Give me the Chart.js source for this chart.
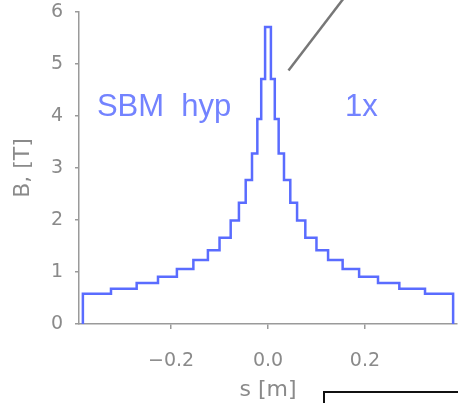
<!DOCTYPE html>
<html>
<head>
<meta charset="utf-8">
<script src="https://cdn.jsdelivr.net/npm/chart.js@4.4.1/dist/chart.umd.min.js"></script>
<style>
html,body{margin:0;padding:0;background:#fff;}
#wrap{width:458px;height:403px;position:relative;}
</style>
</head>
<body>
<div id="wrap"><canvas id="c" width="458" height="403"></canvas></div>
<script>
// Bin edges along s [m]
const binEdges = [-0.382, -0.324, -0.271, -0.227, -0.188, -0.154, -0.124, -0.100, -0.077, -0.060, -0.046, -0.033, -0.022, -0.014, -0.006,
                   0.006, 0.014, 0.022, 0.033, 0.046, 0.060, 0.077, 0.100, 0.124, 0.154, 0.188, 0.227, 0.271, 0.324, 0.382];
// Field B [T] in each bin
const fieldValues = [0.58, 0.68, 0.79, 0.91, 1.06, 1.23, 1.42, 1.66, 1.99, 2.33, 2.77, 3.28, 3.94, 4.71, 5.71,
                     4.71, 3.94, 3.28, 2.77, 2.33, 1.99, 1.66, 1.42, 1.23, 1.06, 0.91, 0.79, 0.68, 0.58];
const xTicks = [-0.2, 0.0, 0.2];
const xTickLabels = ['\u22120.2', '0.0', '0.2'];
const yTicks = [0, 1, 2, 3, 4, 5, 6];

const pts = [{x: binEdges[0], y: 0}];
for (let i = 0; i < fieldValues.length; i++) pts.push({x: binEdges[i], y: fieldValues[i]});
pts.push({x: binEdges[binEdges.length - 1], y: fieldValues[fieldValues.length - 1]});
pts.push({x: binEdges[binEdges.length - 1], y: 0});

const axisColor = '#9a9a9a';
const tickFont = {family: 'DejaVu Sans', size: 19};
const titleFont = {family: 'DejaVu Sans', size: 22};

const decor = {
  id: 'decor',
  afterDraw(chart) {
    const ctx = chart.ctx;
    const xs = chart.scales.x, ys = chart.scales.y;
    ctx.save();
    ctx.fillStyle = '#7383ff';
    ctx.font = '31px "Liberation Sans", Arial, sans-serif';
    ctx.textBaseline = 'alphabetic';
    ctx.textAlign = 'left';
    ctx.fillText('SBM  hyp', xs.getPixelForValue(-0.353), ys.getPixelForValue(4.0));
    ctx.fillText('1x', xs.getPixelForValue(0.159), ys.getPixelForValue(4.0));
    // grey pointer line
    ctx.strokeStyle = '#777';
    ctx.lineWidth = 2.5;
    ctx.beginPath();
    ctx.moveTo(288.5, 70.5);
    ctx.lineTo(347, -6);
    ctx.stroke();
    // partial box
    ctx.strokeStyle = '#111';
    ctx.lineWidth = 2;
    ctx.strokeRect(324, 392, 200, 60);
    ctx.restore();
  }
};

new Chart(document.getElementById('c'), {
  type: 'line',
  data: {
    datasets: [{
      data: pts,
      stepped: 'before',
      borderColor: '#5a6cff',
      borderWidth: 2.5,
      pointRadius: 0,
      fill: false,
      tension: 0
    }]
  },
  options: {
    responsive: false,
    animation: false,
    devicePixelRatio: 1,
    layout: {padding: {top: 12, right: 1, left: 0, bottom: 0}},
    plugins: {legend: {display: false}, tooltip: {enabled: false}},
    scales: {
      x: {
        type: 'linear',
        min: -0.39, max: 0.39,
        afterBuildTicks(s) { s.ticks = xTicks.map(v => ({value: v})); },
        afterFit(s) { s.height = 79; s.paddingLeft = 0; s.paddingRight = 0; },
        ticks: {
          callback(v) { const i = xTicks.indexOf(v); return i >= 0 ? xTickLabels[i] : ''; },
          color: '#8a8a8a', font: tickFont, padding: 21, maxRotation: 0, autoSkip: false
        },
        grid: {display: true, drawOnChartArea: false, drawTicks: true, tickLength: 5, color: axisColor, lineWidth: 1.5},
        border: {display: true, color: axisColor, width: 1.5},
        title: {display: true, text: 's [m]', color: '#8a8a8a', font: titleFont, padding: {top: 0, bottom: 0}}
      },
      y: {
        type: 'linear',
        min: 0, max: 6,
        afterBuildTicks(s) { s.ticks = yTicks.map(v => ({value: v})); },
        afterFit(s) { s.width = 79; s.paddingTop = 0; s.paddingBottom = 0; },
        ticks: {color: '#8a8a8a', font: tickFont, padding: 12, autoSkip: false},
        grid: {display: true, drawOnChartArea: false, drawTicks: true, tickLength: 4, color: axisColor, lineWidth: 1.5},
        border: {display: true, color: axisColor, width: 1.5},
        title: {display: true, text: 'B, [T]', color: '#8a8a8a', font: titleFont, padding: {top: 10, bottom: 0}}
      }
    }
  },
  plugins: [decor]
});
</script>
</body>
</html>
